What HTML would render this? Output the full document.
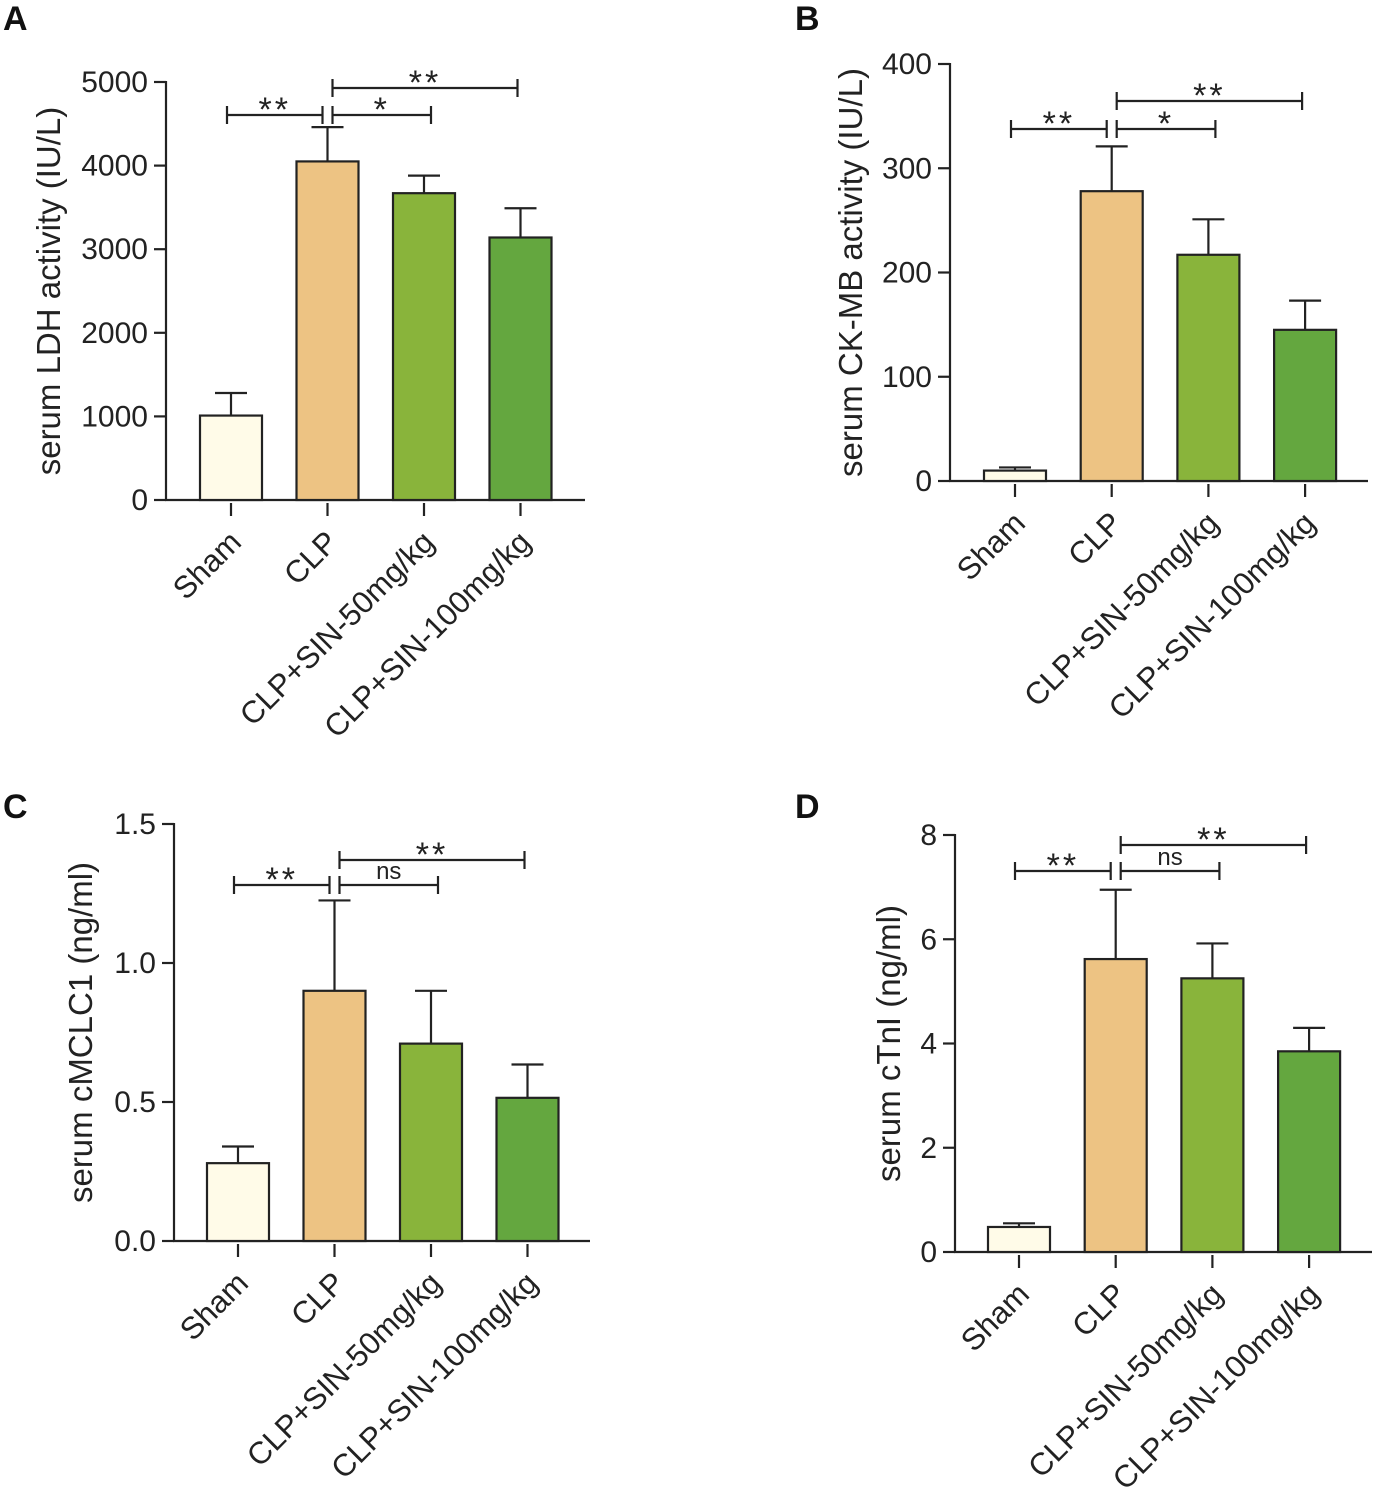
<!DOCTYPE html>
<html><head><meta charset="utf-8"><style>
html,body{margin:0;padding:0;background:#fff}
svg{display:block;font-family:"Liberation Sans",Arial,sans-serif}
</style></head><body>
<svg id="chart" width="1378" height="1494" viewBox="0 0 1378 1494"></svg>
<script>
const categories = ["Sham","CLP","CLP+SIN-50mg/kg","CLP+SIN-100mg/kg"];
const colors = ["#fffbe8","#edc383","#89b43b","#64a73f"];
const ldhMeans = [1010,4050,3670,3140];
const ldhErr = [270,410,210,350];
const ldhTicks = [0,1000,2000,3000,4000,5000];
const ckMeans = [10,278,217,145];
const ckErr = [3,43,34,28];
const ckTicks = [0,100,200,300,400];
const cmMeans = [0.28,0.90,0.71,0.515];
const cmErr = [0.06,0.325,0.19,0.12];
const cmTicks = ["0.0","0.5","1.0","1.5"];
const ctMeans = [0.48,5.62,5.25,3.85];
const ctErr = [0.07,1.33,0.67,0.45];
const ctTicks = [0,2,4,6,8];
const sigA = ["**","*","**"], sigB = ["**","*","**"], sigC = ["**","ns","**"], sigD = ["**","ns","**"];

const svg = document.getElementById('chart');
const NS = "http://www.w3.org/2000/svg";
function mk(tag, attrs, parent, text){
  const e = document.createElementNS(NS, tag);
  for (const k in attrs) e.setAttribute(k, attrs[k]);
  if (text !== undefined) e.textContent = text;
  (parent||svg).appendChild(e);
  return e;
}
function panel(p){
  const g = mk('g', {});
  
  
  const yv = v => p.y0 - (v - p.min) / (p.max - p.min) * (p.y0 - p.y1);
  const xc = i => p.x0 + p.first + i * p.step;
  const L = mk('text', {x:p.lx, y:p.ly, 'font-size':34, 'font-weight':'bold', fill:'#111'}, g, p.letter);
  
  
  const ya = mk('line', {x1:p.x0, y1:yv(p.max)-1, x2:p.x0, y2:p.y0+1, stroke:'#222','stroke-width':2.2}, g);
  
  
  p.ticks.forEach(t => {
    const v = parseFloat(t), y = yv(v);
    mk('line', {x1:p.x0-12, y1:y, x2:p.x0, y2:y, stroke:'#222','stroke-width':2.2}, g);
    const tl = mk('text', {x:p.x0-18, y:y+10, 'font-size':30, 'text-anchor':'end', fill:'#222'}, g, String(t));
    
    
  });
  const yt = mk('text', {x:0, y:0, 'font-size':33, 'text-anchor':'middle', fill:'#222',
    transform:`translate(${p.tx},${(yv(p.max)+p.y0)/2}) rotate(-90)`}, g, p.title);
  
  
  const xa = mk('line', {x1:p.x0-1, y1:p.y0, x2:p.xend, y2:p.y0, stroke:'#222','stroke-width':2.2}, g);
  
  
  const bw = 62;
  p.means.forEach((m, i) => {
    const cx = xc(i), top = yv(m), et = yv(m + p.err[i]);
    const eb = mk('line', {x1:cx, y1:et, x2:cx, y2:top, stroke:'#222','stroke-width':2.2}, g);
    
    
    mk('line', {x1:cx-16, y1:et, x2:cx+16, y2:et, stroke:'#222','stroke-width':2.2}, g);
    const b = mk('rect', {x:cx-bw/2, y:top, width:bw, height:p.y0-top, fill:colors[i], stroke:'#222','stroke-width':2.2}, g);
    
    
    mk('line', {x1:cx, y1:p.y0+3, x2:cx, y2:p.y0+16, stroke:'#222','stroke-width':2.2}, g);
    const cl = mk('text', {x:0, y:0, 'font-size':31, 'text-anchor':'end', fill:'#222',
      transform:`translate(${cx+12},${p.y0+44}) rotate(-45)`}, g, categories[i]);
    
    
  });
  const br = [[0,1,p.b1],[1,2,p.b1],[1,3,p.b2]];
  br.forEach((b, k) => {
    const xa1 = xc(b[0]) + (b[0]===1 ? 5 : -4);
    const xa2 = xc(b[1]) + (b[1]===1 ? -5 : (b[1]===2 ? 7 : -3));
    const y = b[2];
    const bg = mk('g', {}, g);
    
    
    mk('line', {x1:xa1, y1:y, x2:xa2, y2:y, stroke:'#222','stroke-width':2.2}, bg);
    mk('line', {x1:xa1, y1:y-9, x2:xa1, y2:y+9, stroke:'#222','stroke-width':2.2}, bg);
    mk('line', {x1:xa2, y1:y-9, x2:xa2, y2:y+9, stroke:'#222','stroke-width':2.2}, bg);
    const s = p.sig[k];
    const st = mk('text', {x:(xa1+xa2)/2, y: s==='ns' ? y-6 : y+6, 'font-size': s==='ns'?24:34,
      'text-anchor':'middle', fill:'#222', 'letter-spacing': s==='ns'?0:3}, bg, s);
    
    
  });
}
panel({letter:'A', lx:3, ly:30, x0:166, y0:500, y1:82, min:0, max:5000, ticks:ldhTicks, means:ldhMeans, err:ldhErr,
  first:65, step:96.5, xend:585, tx:60, title:'serum LDH activity (IU/L)', b1:115, b2:88, sig:sigA});
panel({letter:'B', lx:795, ly:30, x0:950, y0:481, y1:64, min:0, max:400, ticks:ckTicks, means:ckMeans, err:ckErr,
  first:65, step:96.7, xend:1368, tx:862, title:'serum CK-MB activity (IU/L)', b1:129, b2:101, sig:sigB});
panel({letter:'C', lx:3, ly:818, x0:174, y0:1241, y1:824, min:0, max:1.5, ticks:cmTicks, means:cmMeans, err:cmErr,
  first:64, step:96.5, xend:590, tx:92, title:'serum cMCLC1 (ng/ml)', b1:885, b2:860, sig:sigC});
panel({letter:'D', lx:795, ly:818, x0:955, y0:1252, y1:835, min:0, max:8, ticks:ctTicks, means:ctMeans, err:ctErr,
  first:64, step:96.7, xend:1372, tx:900, title:'serum  cTnI (ng/ml)', b1:871, b2:845, sig:sigD});
</script>
</body></html>
